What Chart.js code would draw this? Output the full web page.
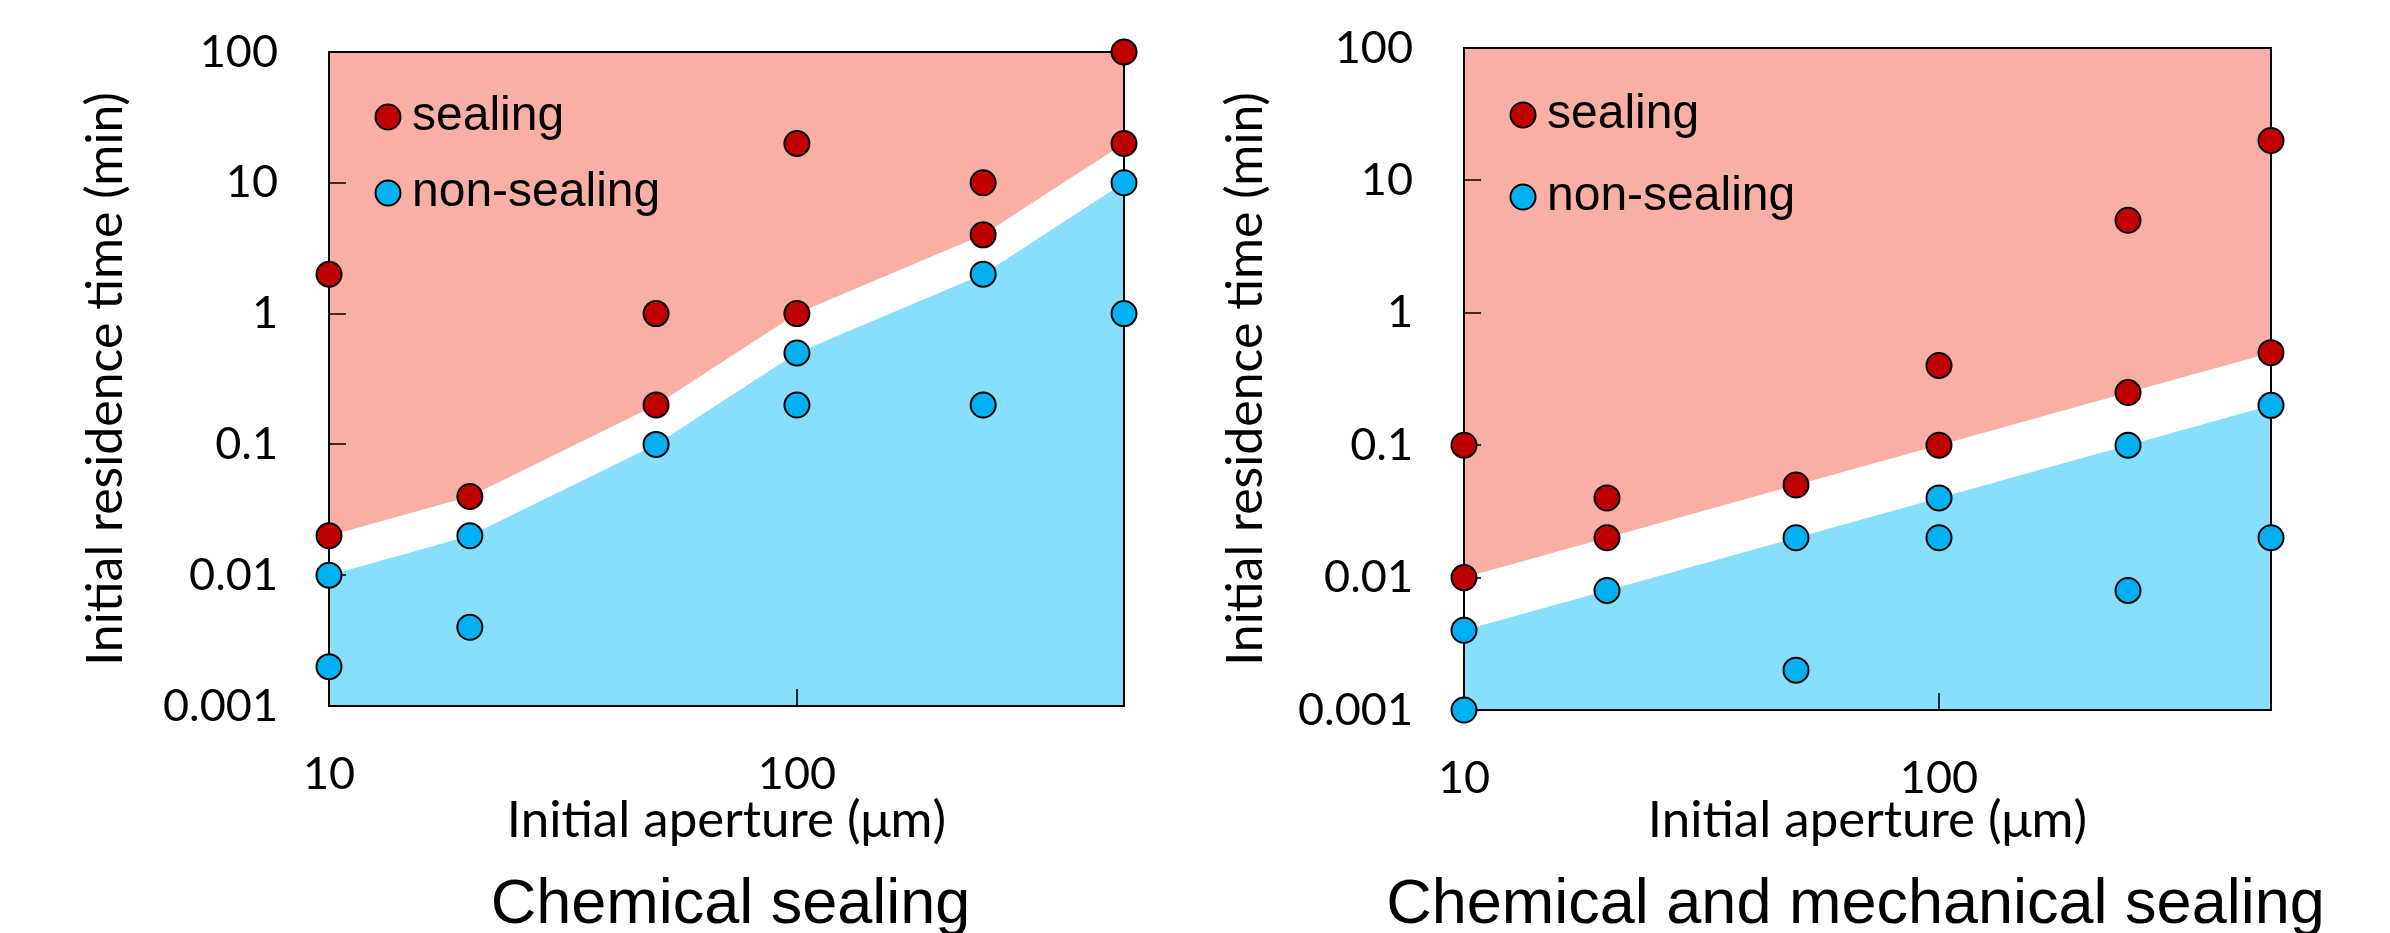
<!DOCTYPE html>
<html>
<head>
<meta charset="utf-8">
<script src="https://cdn.jsdelivr.net/npm/chart.js"></script>
<style>
    body { margin: 0; background: #fff; }
    .panel { position: absolute; top: 0; }
</style>
</head>
<body>
<canvas id="chemicalChart" class="panel" style="left: 0px;" width="1195" height="933"></canvas>
<canvas id="mechanicalChart" class="panel" style="left: 1195px;" width="1195" height="933"></canvas>
<script>
/* Data */
const yTicks = [0.001, 0.01, 0.1, 1, 10, 100];
const xTickLabels = [10, 100];
const apertures = [10, 20, 50, 100, 250, 500];

// Chemical sealing
const chemSealX = [10, 10, 20, 50, 50, 100, 100, 250, 250, 500, 500];
const chemSealY = [2, 0.02, 0.04, 1, 0.2, 20, 1, 10, 4, 100, 20];
const chemNonSealX = [10, 10, 20, 20, 50, 100, 100, 250, 250, 500, 500];
const chemNonSealY = [0.01, 0.002, 0.02, 0.004, 0.1, 0.5, 0.2, 2, 0.2, 10, 1];
const chemSealEdge = [0.02, 0.04, 0.2, 1, 4, 20];
const chemNonSealEdge = [0.01, 0.02, 0.1, 0.5, 2, 10];

// Chemical and mechanical sealing
const mechSealX = [10, 10, 20, 20, 50, 100, 100, 250, 250, 500, 500];
const mechSealY = [0.1, 0.01, 0.04, 0.02, 0.05, 0.4, 0.1, 5, 0.25, 20, 0.5];
const mechNonSealX = [10, 10, 20, 50, 50, 100, 100, 250, 250, 500, 500];
const mechNonSealY = [0.004, 0.001, 0.008, 0.02, 0.002, 0.04, 0.02, 0.1, 0.008, 0.2, 0.02];
const mechSealEdge = [0.01, 0.02, 0.05, 0.1, 0.25, 0.5];
const mechNonSealEdge = [0.004, 0.008, 0.02, 0.04, 0.1, 0.2];

const sealColor = '#C00000';
const nonSealColor = '#00B0F0';
const sealZone = '#F9AFA3';
const nonSealZone = '#87DFFD';

function ToPoints(xs, ys) {
    let points = [];
    let index = 0;

    while (index < xs.length) {
        points.push({ x: xs[index], y: ys[index] });
        index++;
    }

    return points;
}

/* Axis box and inward tick marks, drawn after the zones and before the points */
const frameTicks = {
    id: 'frameTicks',
    beforeDraw: function (chart) {
        chart.$frameDone = false;
    },
    beforeDatasetDraw: function (chart, args) {
        if (chart.$frameDone || chart.data.datasets[args.index].type === 'line') {
            return;
        }
        chart.$frameDone = true;

        let ctx = chart.ctx;
        let area = chart.chartArea;
        let xScale = chart.scales.x;
        let yScale = chart.scales.y;

        ctx.save();
        ctx.strokeStyle = '#000';
        ctx.lineWidth = 2;
        ctx.strokeRect(area.left, area.top, area.right - area.left, area.bottom - area.top);

        ctx.lineWidth = 1.6;
        ctx.beginPath();
        yTicks.forEach(function (v) {
            let py = Math.round(yScale.getPixelForValue(v));
            ctx.moveTo(area.left, py);
            ctx.lineTo(area.left + 17, py);
        });
        xScale.ticks.forEach(function (t) {
            if (t.value <= xScale.min || t.value >= xScale.max) {
                return;
            }
            let px = Math.round(xScale.getPixelForValue(t.value));
            let len = xTickLabels.includes(t.value) ? 17 : 12;
            ctx.moveTo(px, area.bottom);
            ctx.lineTo(px, area.bottom - len);
        });
        ctx.stroke();
        ctx.restore();
    }
};

/* Legend in the upper left corner of the plot */
const cornerLegend = {
    id: 'cornerLegend',
    afterDatasetsDraw: function (chart, args, opts) {
        let ctx = chart.ctx;
        let area = chart.chartArea;

        ctx.save();
        ctx.font = '48px "Liberation Sans", Arial, sans-serif';
        ctx.textBaseline = 'middle';
        ctx.textAlign = 'left';

        opts.rows.forEach(function (dy, i) {
            let ds = chart.data.datasets[i];
            let cx = area.left + opts.markerX;
            let cy = area.top + dy;

            ctx.beginPath();
            ctx.arc(cx, cy, 12.5, 0, Math.PI * 2);
            ctx.fillStyle = ds.backgroundColor;
            ctx.fill();
            ctx.lineWidth = 2;
            ctx.strokeStyle = '#000';
            ctx.stroke();

            ctx.fillStyle = '#000';
            ctx.fillText(ds.label, area.left + opts.textX, cy);
        });
        ctx.restore();
    }
};

/* Panel caption under the x axis title */
const panelCaption = {
    id: 'panelCaption',
    afterDraw: function (chart, args, opts) {
        let ctx = chart.ctx;
        let area = chart.chartArea;

        ctx.save();
        ctx.font = '63px "Liberation Sans", Arial, sans-serif';
        ctx.fillStyle = '#000';
        ctx.textAlign = 'center';
        ctx.textBaseline = 'alphabetic';
        ctx.fillText(opts.text, (area.left + area.right) / 2 + opts.dx, opts.baseline);
        ctx.restore();
    }
};

function DrawPanel(canvasId, setup) {
    let ctx = document.getElementById(canvasId).getContext('2d');

    return new Chart(ctx, {
        type: 'scatter',
        data: {
            datasets: [
                {
                    label: 'sealing',
                    data: ToPoints(setup.sealX, setup.sealY),
                    backgroundColor: sealColor,
                    borderColor: '#000',
                    borderWidth: 2,
                    pointRadius: 12.5,
                    clip: false,
                    order: 1
                },
                {
                    label: 'non-sealing',
                    data: ToPoints(setup.nonSealX, setup.nonSealY),
                    backgroundColor: nonSealColor,
                    borderColor: '#000',
                    borderWidth: 2,
                    pointRadius: 12.5,
                    clip: false,
                    order: 1
                },
                {
                    type: 'line',
                    label: 'sealing zone',
                    data: ToPoints(apertures, setup.sealEdge),
                    backgroundColor: sealZone,
                    borderWidth: 0,
                    pointRadius: 0,
                    fill: 'end',
                    order: 2
                },
                {
                    type: 'line',
                    label: 'non-sealing zone',
                    data: ToPoints(apertures, setup.nonSealEdge),
                    backgroundColor: nonSealZone,
                    borderWidth: 0,
                    pointRadius: 0,
                    fill: 'start',
                    order: 2
                }
            ]
        },
        options: {
            responsive: false,
            devicePixelRatio: 1,
            animation: false,
            events: [],
            layout: {
                padding: { left: 0, top: setup.top, right: setup.right, bottom: 63 }
            },
            scales: {
                x: {
                    type: 'logarithmic',
                    min: 10,
                    max: 500,
                    // ticks are drawn inward by frameTicks, tickLength only spaces the labels
                    grid: { display: false, drawTicks: true, tickLength: 41 },
                    border: { display: false },
                    ticks: {
                        autoSkip: false,
                        maxRotation: 0,
                        padding: 0,
                        color: '#000',
                        font: { family: 'Lato', size: 45 },
                        callback: function (value) {
                            return xTickLabels.includes(value) ? String(value) : null;
                        }
                    },
                    title: {
                        display: true,
                        text: 'Initial aperture (μm)',
                        color: '#000',
                        font: { family: 'Lato', size: 51 },
                        padding: { top: 0, bottom: 19 }
                    },
                    afterFit: function (scale) {
                        scale.height = setup.xHeight;
                    }
                },
                y: {
                    type: 'logarithmic',
                    min: 0.001,
                    max: 100,
                    grid: { display: false, drawTicks: true, tickLength: 51 },
                    border: { display: false },
                    afterBuildTicks: function (scale) {
                        scale.ticks = yTicks.map(function (v) { return { value: v }; });
                    },
                    ticks: {
                        padding: 0,
                        color: '#000',
                        font: { family: 'Lato', size: 45 },
                        callback: function (value) {
                            return String(value);
                        }
                    },
                    title: {
                        display: true,
                        text: 'Initial residence time (min)',
                        color: '#000',
                        font: { family: 'Lato', size: 50 },
                        padding: { top: setup.yTitlePad, bottom: 0 }
                    },
                    afterFit: function (scale) {
                        scale.width = setup.yWidth;
                    }
                }
            },
            plugins: {
                legend: { display: false },
                tooltip: { enabled: false },
                cornerLegend: { markerX: 59, textX: 83, rows: setup.legendRows },
                panelCaption: { text: setup.title, dx: setup.titleDx, baseline: 923 }
            }
        },
        plugins: [frameTicks, cornerLegend, panelCaption]
    });
}

DrawPanel('chemicalChart', {
    title: 'Chemical sealing',
    sealX: chemSealX, sealY: chemSealY,
    nonSealX: chemNonSealX, nonSealY: chemNonSealY,
    sealEdge: chemSealEdge, nonSealEdge: chemNonSealEdge,
    top: 52, right: 71, yWidth: 329, xHeight: 164, yTitlePad: 76,
    legendRows: [65, 141], titleDx: 4
});

DrawPanel('mechanicalChart', {
    title: 'Chemical and mechanical sealing',
    sealX: mechSealX, sealY: mechSealY,
    nonSealX: mechNonSealX, nonSealY: mechNonSealY,
    sealEdge: mechSealEdge, nonSealEdge: mechNonSealEdge,
    top: 48, right: 119, yWidth: 269, xHeight: 160, yTitlePad: 21,
    legendRows: [67, 149], titleDx: -12
});
</script>
</body>
</html>
